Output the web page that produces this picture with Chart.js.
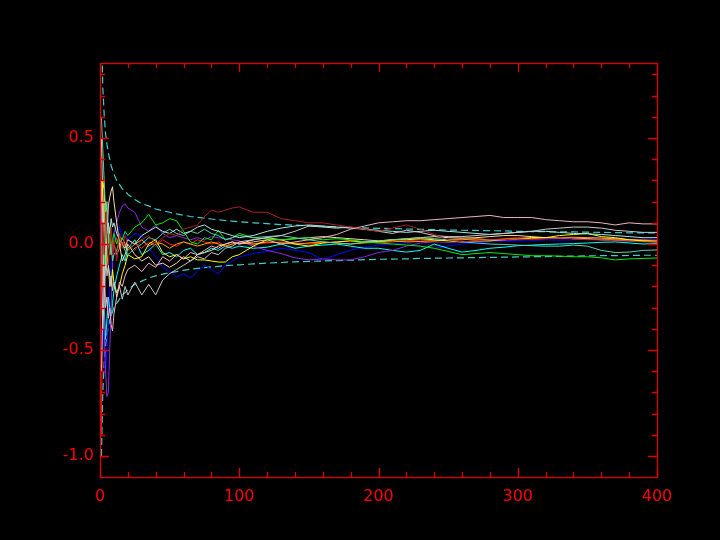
<!DOCTYPE html>
<html>
<head>
<meta charset="utf-8">
<script src="https://cdn.jsdelivr.net/npm/chart.js@4/dist/chart.umd.min.js"></script>
<style>
  html, body { margin: 0; padding: 0; background: #000; }
  #wrap { width: 720px; height: 540px; }
</style>
</head>
<body>
<div id="wrap"><canvas id="c" width="720" height="540"></canvas></div>
<script>
// ---- data ----
const steps = [1,2,3,4,5,6,7,8,9,10, 12,14,16,18,20,
  25,30,35,40,45,50,55,60,65,70,75,80,85,90,95,100,
  110,120,130,140,150,160,170,180,190,200,210,220,230,240,250,260,270,280,290,300,310,320,330,340,350,360,370,380,390,400];

const maroonSeries = [-0.3,0.1,-0.05,0.15,0.05,-0.1,0.0,0.08,-0.05,0.02,
  -0.08,0.05,-0.02,0.04,0.0,
  -0.03,0.02,0.04,0.0,0.03,0.05,0.04,0.07,0.08,0.09,0.13,0.16,0.15,0.16,0.17,0.175,
  0.15,0.15,0.12,0.11,0.10,0.10,0.09,0.08,0.07,0.06,0.075,0.09,0.07,0.045,0.02,0.01,0.015,0.02,0.02,0.025,0.02,0.025,0.03,0.025,0.02,0.02,0.015,0.015,0.01,0.01];
const pinkSeries = [0.3,-0.2,-0.1,-0.3,-0.25,-0.35,-0.3,-0.38,-0.41,-0.33,
  -0.25,-0.18,-0.2,-0.15,-0.12,
  -0.1,-0.13,-0.09,-0.11,-0.06,-0.08,-0.05,-0.07,-0.04,-0.05,-0.03,-0.01,-0.02,0.0,0.01,0.0,
  0.01,0.02,0.0,0.01,0.02,0.03,0.045,0.07,0.085,0.10,0.105,0.11,0.11,0.115,0.12,0.125,0.13,0.135,0.125,0.125,0.125,0.115,0.11,0.105,0.105,0.10,0.09,0.10,0.095,0.095];
const silverSeries = [-0.6,-0.3,0.1,-0.05,-0.15,-0.1,-0.2,-0.15,-0.22,-0.18,
  -0.25,-0.2,-0.26,-0.2,-0.24,
  -0.18,-0.24,-0.19,-0.24,-0.17,-0.14,-0.12,-0.1,-0.08,-0.06,-0.07,-0.04,-0.05,-0.02,-0.01,0.01,
  0.02,0.03,0.04,0.06,0.085,0.08,0.075,0.08,0.07,0.06,0.05,0.065,0.055,0.04,0.035,0.035,0.04,0.045,0.05,0.055,0.06,0.07,0.075,0.08,0.08,0.075,0.065,0.06,0.055,0.055];
const greenSeries = [-0.2,0.1,-0.1,0.05,-0.05,0.0,0.08,-0.03,0.02,0.05,
  0.0,0.04,0.02,0.06,0.04,
  0.08,0.1,0.14,0.09,0.1,0.12,0.11,0.06,0.01,0.0,0.03,0.02,0.065,0.02,0.03,0.05,
  0.03,0.025,0.02,0.025,0.03,0.02,0.025,0.02,0.01,0.005,0.0,-0.005,-0.01,-0.02,-0.035,-0.05,-0.045,-0.04,-0.045,-0.05,-0.055,-0.055,-0.057,-0.06,-0.06,-0.065,-0.075,-0.07,-0.068,-0.066];
const yellowSeries = [0.2,0.3,0.25,0.1,-0.05,-0.1,-0.15,-0.2,-0.12,-0.18,
  -0.23,-0.2,-0.14,-0.1,-0.05,
  -0.07,-0.06,0.0,0.02,-0.04,-0.06,-0.05,-0.07,-0.06,-0.075,-0.075,-0.08,-0.085,-0.085,-0.06,-0.05,
  -0.01,0.02,0.02,0.0,-0.01,0.005,0.01,0.015,0.01,0.012,0.02,0.02,0.025,0.02,0.015,0.01,0.015,0.015,0.02,0.025,0.03,0.03,0.04,0.045,0.05,0.035,0.03,0.02,0.015,0.01];
const cyanSeries = [-0.1,0.2,-0.3,-0.45,-0.35,-0.25,-0.3,-0.34,-0.28,-0.22,
  -0.15,-0.1,-0.05,-0.08,-0.02,
  0.02,-0.05,-0.03,0.0,-0.05,-0.04,-0.06,-0.03,-0.02,-0.05,-0.04,-0.02,-0.03,-0.01,-0.02,-0.01,
  -0.02,-0.015,0.0,-0.02,-0.01,-0.005,0.0,-0.01,-0.02,-0.02,-0.03,-0.038,-0.03,0.0,-0.02,-0.038,-0.03,-0.02,-0.015,-0.008,-0.005,-0.002,0.0,0.002,0.005,0.008,0.01,0.005,0.0,0.002];
const blueSeries = [0.2,-0.3,-0.55,-0.62,-0.5,-0.35,-0.2,-0.1,-0.05,0.02,
  0.05,0.08,0.03,0.06,0.02,
  0.05,0.04,-0.02,-0.06,-0.11,-0.13,-0.155,-0.14,-0.16,-0.13,-0.1,-0.12,-0.14,-0.1,-0.08,-0.06,
  -0.045,-0.035,-0.02,-0.03,-0.04,-0.075,-0.05,-0.03,-0.015,-0.005,0.0,0.005,-0.01,-0.02,-0.01,0.0,0.005,0.01,0.012,0.015,0.015,0.02,0.018,0.02,0.022,0.02,0.015,0.015,0.018,0.02];
const violetSeries = [-0.3,0.1,-0.4,-0.6,-0.72,-0.7,-0.5,-0.3,-0.1,0.05,
  0.1,0.15,0.18,0.19,0.17,
  0.15,0.08,0.06,0.09,0.05,0.03,0.04,0.03,0.02,0.03,0.02,0.035,0.03,0.025,0.02,0.015,
  -0.01,-0.03,-0.045,-0.065,-0.075,-0.07,-0.075,-0.075,-0.06,-0.04,-0.03,-0.01,0.005,0.01,0.008,0.01,0.012,0.015,0.018,0.02,0.022,0.025,0.028,0.03,0.03,0.028,0.025,0.022,0.02,0.018];
const wheatSeries = [0.5,0.2,0.0,0.15,0.05,0.18,0.22,0.25,0.27,0.2,
  0.1,0.0,-0.08,-0.05,0.0,
  -0.05,-0.08,-0.06,-0.1,-0.09,-0.11,-0.09,-0.06,-0.08,-0.05,-0.04,-0.03,-0.01,0.0,0.01,0.0,
  0.02,0.03,0.02,0.025,0.03,0.035,0.03,0.025,0.02,0.015,0.02,0.025,0.03,0.035,0.03,0.028,0.03,0.035,0.04,0.04,0.035,0.03,0.03,0.025,0.025,0.02,0.018,0.015,0.012,0.01];
const aquaSeries = [0.6,0.45,0.3,0.15,0.2,0.05,-0.05,0.0,-0.08,-0.05,
  -0.03,0.02,0.0,-0.03,-0.05,
  -0.02,0.0,0.03,0.02,0.05,0.07,0.05,0.04,0.06,0.05,0.07,0.05,0.04,0.02,0.03,0.04,
  0.03,0.035,0.04,0.03,0.02,0.01,0.005,0.0,0.01,0.015,0.02,0.025,0.03,0.025,0.02,0.01,0.005,0.0,-0.002,-0.005,-0.008,-0.01,-0.01,-0.005,-0.01,-0.03,-0.04,-0.038,-0.03,-0.028];
const paleSeries = [-0.2,-0.4,-0.25,-0.1,0.05,0.1,0.05,0.12,0.08,0.1,
  0.05,0.02,0.0,-0.02,0.02,
  0.0,0.04,0.06,0.08,0.06,0.05,0.07,0.05,0.06,0.08,0.09,0.07,0.06,0.05,0.04,0.03,
  0.04,0.06,0.075,0.085,0.09,0.085,0.08,0.075,0.07,0.065,0.06,0.055,0.06,0.065,0.06,0.055,0.05,0.045,0.05,0.055,0.06,0.06,0.055,0.05,0.048,0.045,0.04,0.035,0.03,0.03];
const orangeSeries = [0.3,0.25,0.1,0.2,0.15,0.05,0.0,-0.05,0.02,0.0,
  -0.05,-0.02,0.03,0.0,-0.03,
  0.0,0.02,-0.01,0.01,0.0,-0.02,0.0,0.01,0.0,-0.01,0.0,0.01,0.0,-0.01,0.0,0.005,
  0.0,0.01,0.005,0.0,0.005,0.01,0.005,0.0,0.005,0.01,0.015,0.01,0.012,0.015,0.02,0.02,0.025,0.02,0.022,0.025,0.028,0.03,0.03,0.032,0.03,0.028,0.025,0.02,0.018,0.015];
const redSeries = [-0.9,-0.2,0.1,0.0,-0.1,0.05,-0.05,0.02,-0.03,0.0,
  0.03,-0.02,0.01,-0.01,0.02,
  0.0,-0.02,0.01,-0.01,0.02,0.0,-0.01,0.01,0.0,0.02,0.01,0.0,0.01,-0.01,0.0,0.01,
  0.0,0.005,0.01,0.005,0.0,0.005,0.01,0.015,0.01,0.005,0.01,0.015,0.02,0.015,0.02,0.025,0.02,0.02,0.025,0.03,0.025,0.03,0.028,0.025,0.022,0.02,0.02,0.018,0.015,0.012];
const upperBound = [1.05,0.74,0.61,0.52,0.47,0.43,0.40,0.37,0.35,0.33,
  0.30,0.28,0.26,0.25,0.235,
  0.21,0.19,0.18,0.165,0.157,0.15,0.142,0.136,0.13,0.126,0.122,0.118,0.114,0.111,0.108,0.105,
  0.1,0.096,0.092,0.089,0.086,0.083,0.081,0.078,0.076,0.074,0.073,0.071,0.069,0.068,0.066,0.065,0.064,0.063,0.062,0.06,0.059,0.058,0.057,0.057,0.056,0.055,0.054,0.053,0.053,0.052];
const lowerBound = [-1.0,-0.7,-0.56,-0.48,-0.43,-0.39,-0.36,-0.34,-0.32,-0.3,
  -0.28,-0.26,-0.24,-0.23,-0.215,
  -0.19,-0.175,-0.16,-0.15,-0.142,-0.135,-0.13,-0.124,-0.119,-0.115,-0.111,-0.108,-0.105,-0.102,-0.1,-0.098,
  -0.094,-0.09,-0.087,-0.084,-0.082,-0.08,-0.078,-0.076,-0.074,-0.072,-0.071,-0.07,-0.068,-0.067,-0.066,-0.065,-0.064,-0.063,-0.062,-0.061,-0.06,-0.059,-0.058,-0.057,-0.056,-0.055,-0.055,-0.054,-0.053,-0.053];

const xTickValues = [0, 100, 200, 300, 400];
const xTickLabels = ['0', '100', '200', '300', '400'];
const yTickValues = [-1.0, -0.5, 0.0, 0.5];
const yTickLabels = ['-1.0', '-0.5', '0.0', '0.5'];

// ---- chart ----
const seriesList = [
  [maroonSeries, '#a82222'],
  [pinkSeries, '#f0b4bc'],
  [silverSeries, '#c8c8c8'],
  [paleSeries, '#a8e8e0'],
  [aquaSeries, '#5fd0b0'],
  [greenSeries, '#00ee00'],
  [yellowSeries, '#ffff00'],
  [wheatSeries, '#f5dcb4'],
  [orangeSeries, '#ffa500'],
  [redSeries, '#ff2020'],
  [violetSeries, '#8a2be2'],
  [cyanSeries, '#00ffff'],
  [blueSeries, '#0000ff'],
];
const toXY = arr => steps.map((x, i) => ({ x: x, y: arr[i] }));
const datasets = seriesList.map(([arr, col]) => ({
  data: toXY(arr), borderColor: col, borderWidth: 1, pointRadius: 0, tension: 0, fill: false
}));
datasets.push({ data: toXY(upperBound), borderColor: '#40cccc', borderWidth: 1.2, borderDash: [7, 4], pointRadius: 0, fill: false });
datasets.push({ data: toXY(lowerBound), borderColor: '#40cccc', borderWidth: 1.2, borderDash: [7, 4], pointRadius: 0, fill: false });

const AXIS = '#e00000';
const framePlugin = {
  id: 'frame',
  beforeDraw(chart) {
    const c = chart.ctx;
    c.save(); c.fillStyle = '#000'; c.fillRect(0, 0, chart.width, chart.height); c.restore();
  },
  afterDraw(chart) {
    const c = chart.ctx, a = chart.chartArea, xs = chart.scales.x, ys = chart.scales.y;
    c.save();
    c.strokeStyle = AXIS; c.lineWidth = 1.3;
    c.strokeRect(Math.round(a.left) + 0.5, Math.round(a.top) + 0.5, Math.round(a.right - a.left), Math.round(a.bottom - a.top));
    c.beginPath();
    for (let v = 0; v <= 400; v += 20) {
      const px = Math.round(xs.getPixelForValue(v)) + 0.5;
      const len = (v % 100 === 0) ? 9 : 5;
      c.moveTo(px, a.bottom); c.lineTo(px, a.bottom - len);
      c.moveTo(px, a.top); c.lineTo(px, a.top + len);
    }
    for (let k = -10; k <= 8; k++) {
      const v = k / 10;
      const py = Math.round(ys.getPixelForValue(v)) + 0.5;
      const len = (k % 5 === 0) ? 9 : 5;
      c.moveTo(a.left, py); c.lineTo(a.left + len, py);
      c.moveTo(a.right, py); c.lineTo(a.right - len, py);
    }
    c.stroke();
    c.restore();
  }
};

Chart.defaults.font.family = 'DejaVu Sans';
Chart.defaults.font.size = 16;

new Chart(document.getElementById('c'), {
  type: 'line',
  data: { datasets: datasets },
  plugins: [framePlugin],
  options: {
    responsive: false,
    animation: false,
    events: [],
    layout: { padding: { left: 0, top: 63, right: 63, bottom: 0 } },
    plugins: { legend: { display: false }, tooltip: { enabled: false } },
    scales: {
      x: {
        type: 'linear', min: 0, max: 400,
        grid: { display: false, drawTicks: false },
        border: { display: false },
        afterBuildTicks: s => { s.ticks = xTickValues.map(v => ({ value: v })); },
        afterFit: s => { s.height = 63; },
        ticks: {
          color: '#ff0000', padding: 10, maxRotation: 0, autoSkip: false,
          callback: (v) => xTickLabels[xTickValues.indexOf(v)]
        }
      },
      y: {
        type: 'linear', min: -1.099, max: 0.854,
        grid: { display: false, drawTicks: false },
        border: { display: false },
        afterBuildTicks: s => { s.ticks = yTickValues.map(v => ({ value: v })); },
        afterFit: s => { s.width = 100; },
        ticks: {
          color: '#ff0000', padding: 6, autoSkip: false,
          callback: (v) => yTickLabels[yTickValues.indexOf(v)]
        }
      }
    }
  }
});
</script>
</body>
</html>
